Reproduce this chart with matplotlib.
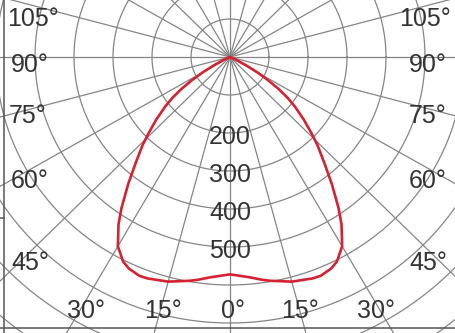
import numpy as np
import matplotlib
matplotlib.use("Agg")
from matplotlib import pyplot as plt

# intensite (cd), angle depuis la verticale basse
angles_deg = [0, 5, 8, 10, 15, 20, 22, 25, 27, 30, 33, 35, 38, 41, 44, 46, 49, 52, 54, 56, 58, 60, 62, 64, 66, 68, 90]
intensite = [572, 582, 592, 598, 612, 620, 621, 614, 604, 575, 525, 485, 424, 368, 323, 292, 250, 210, 182,
             150, 115, 80, 48, 22, 6, 0, 0]

cercles = [100, 200, 300, 400, 500, 600, 700, 800, 900]
rayons_lab = [200, 300, 400, 500]
rayons_txt = ["200", "300", "400", "500"]
angles_grille = np.arange(0, 180, 15)  # rayons tous les 15 deg

# libelles d'angle (texte, position en pixels dans l'image)
lab_angles = ["105°", "90°", "75°", "60°", "45°", "30°", "15°", "0°", "15°", "30°", "45°", "60°", "75°", "90°", "105°"]
lab_pos = [(33, 19), (30, 65), (28, 116), (30, 181), (30, 263), (86, 311), (163, 311), (233, 311),
           (300, 311), (376, 311), (428, 263), (428, 181), (428, 116), (428, 65), (425, 19)]

W, H = 455, 333
cx, cy = 230, 57          # centre du diagramme en pixels
sx, sy = 39 / 100, 38 / 100  # pixels par cd

plt.rcParams['font.family'] = ['Liberation Sans', 'DejaVu Sans']
fig = plt.figure(figsize=(W / 100, H / 100), dpi=100)
ax = fig.add_axes([0, 0, 1, 1])
ax.set_xlim(-cx / sx, (W - cx) / sx)
ax.set_ylim(-(H - cy) / sy, cy / sy)
ax.axis('off')

gris = '#858585'
t = np.linspace(0, 2 * np.pi, 721)
for r in cercles:
    ax.plot(r * np.cos(t), r * np.sin(t), color=gris, lw=0.9, zorder=1)
for a in angles_grille:
    ar = np.radians(a)
    L = 2000
    ax.plot([-L * np.sin(ar), L * np.sin(ar)], [-L * np.cos(ar), L * np.cos(ar)], color=gris, lw=0.9, zorder=1)

# courbe symetrique
th = np.radians(np.array(angles_deg))
I = np.array(intensite)
th_full = np.concatenate([-th[::-1], th[1:]])
I_full = np.concatenate([I[::-1], I[1:]])
ax.plot(I_full * np.sin(th_full), -I_full * np.cos(th_full), color='#d42232', lw=1.9, zorder=3,
        solid_joinstyle='round', solid_capstyle='round')

txt = '#333333'
for r, s in zip(rayons_lab, rayons_txt):
    ax.text(0, -(r + 10), s, ha='center', va='center', fontsize=18, color=txt, zorder=4)
for s, (px, py) in zip(lab_angles, lab_pos):
    ax.text(px / W, 1 - py / H, s, transform=ax.transAxes, ha='center', va='center',
            fontsize=18, color=txt, zorder=4)

# cadre de la figure
fig.add_artist(plt.Line2D([3.5 / W, 3.5 / W], [0, 1], color='#555555', lw=1.1))
fig.add_artist(plt.Line2D([0, 1], [1 - 327.5 / H, 1 - 327.5 / H], color='#555555', lw=1.1))
fig.add_artist(plt.Line2D([0, 3.5 / W], [1 - 218 / H, 1 - 218 / H], color='#555555', lw=1.1))

fig.savefig('out.png', dpi=100)
